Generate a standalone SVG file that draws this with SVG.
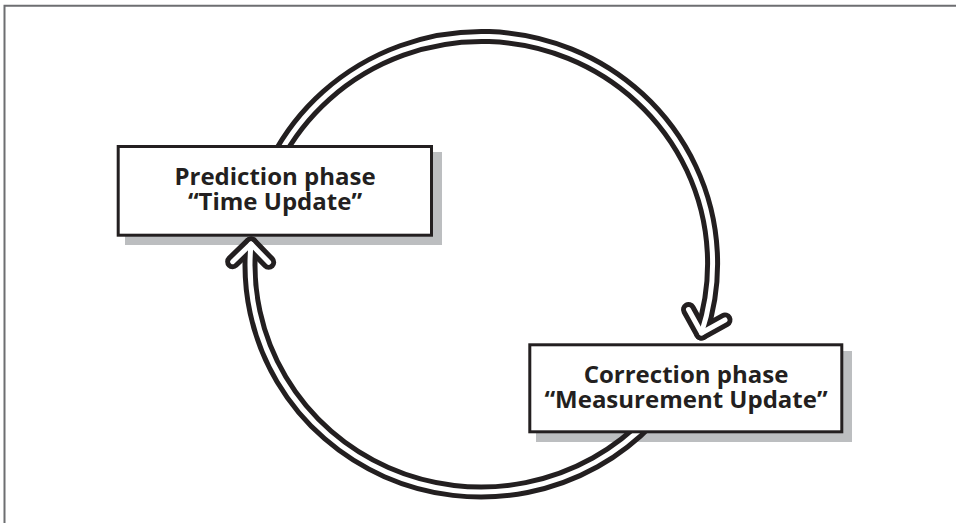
<svg xmlns="http://www.w3.org/2000/svg" width="956" height="523" viewBox="0 0 956 523">
<style>
.frame{fill:none;stroke:#6d6e71;stroke-width:2}
.shadow{fill:#bcbec0}
.box{fill:#fff;stroke:#231f20;stroke-width:3}
.lbl{font-family:"Open Sans","Liberation Sans",sans-serif;font-weight:700;font-size:24px;fill:#231f20;text-anchor:middle}
.outer{fill:none;stroke:#231f20;stroke-width:15;stroke-linecap:round;stroke-linejoin:round}
.inner{fill:none;stroke:#fff;stroke-width:5;stroke-linecap:round;stroke-linejoin:round}
</style>
<defs>
<path id="arcTop" d="M276,160 A231,227 0 0 1 701.5,333"/>
<path id="arcBot" d="M649.8,420 A231,227 0 0 1 251,244"/>
<path id="headR" d="M-19,-19 L0,0 L19,-19" transform="translate(701.5,333) rotate(16)"/>
<path id="headL" d="M-18,-18 L0,0 L18,-18" transform="translate(251,244) rotate(181)"/>
</defs>
<path class="frame" d="M4.5,523 V5.8 H956"/>
<g id="shadows">
<rect class="shadow" x="125" y="152" width="317" height="93"/>
<rect class="shadow" x="536" y="351" width="316" height="91"/>
</g>
<g id="connectors">
<use href="#arcTop" class="outer"/>
<use href="#headR" class="outer"/>
<use href="#arcBot" class="outer"/>
<use href="#headL" class="outer"/>
<use href="#arcTop" class="inner"/>
<use href="#headR" class="inner"/>
<use href="#arcBot" class="inner"/>
<use href="#headL" class="inner"/>
</g>
<g id="prediction">
<rect class="box" x="118.2" y="146.5" width="313.3" height="88.7"/>
<text class="lbl" x="275" y="185">Prediction phase</text>
<text class="lbl" x="275" y="210">“Time Update”</text>
</g>
<g id="correction">
<rect class="box" x="529.8" y="344.8" width="312" height="87"/>
<text class="lbl" x="686" y="383.3">Correction phase</text>
<text class="lbl" x="686" y="408.3">“Measurement Update”</text>
</g>
</svg>
